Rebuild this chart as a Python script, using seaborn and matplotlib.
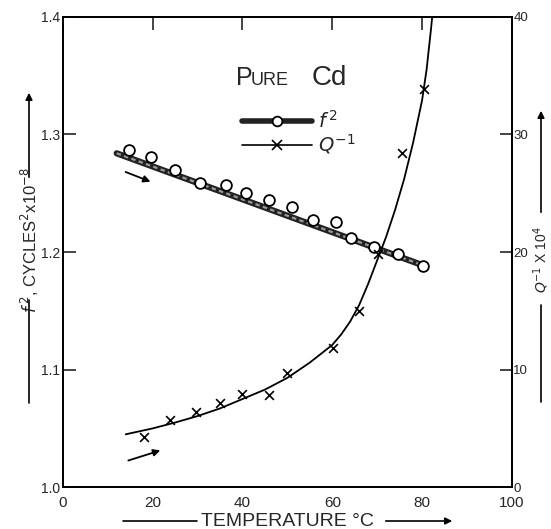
import numpy as np
import pandas as pd
import matplotlib.pyplot as plt
import seaborn as sns
from matplotlib.lines import Line2D

# f^2 measurements (cycles^2 x 10^-8)
temp_f = [14.7, 19.6, 24.9, 30.5, 36.3, 40.8, 45.9, 51.0, 55.7, 60.8, 64.1, 69.3, 74.6, 80.2]
f_sq = [1.287, 1.281, 1.270, 1.259, 1.257, 1.250, 1.244, 1.238, 1.227, 1.226, 1.212, 1.204, 1.198, 1.188]
fit_t = [12, 80]
fit_f = [1.284, 1.189]

# Q^-1 measurements (x 10^4)
temp_q = [18.0, 23.8, 29.6, 35.0, 39.9, 45.9, 49.9, 60.1, 65.9, 70.2, 75.5, 80.4]
q_inv = [4.3, 5.7, 6.4, 7.2, 7.9, 7.85, 9.7, 11.8, 15.0, 19.8, 28.4, 33.9]
# drawn curve
curve_t = [14, 20, 25, 30, 35, 40, 45, 50, 55, 60, 62, 64, 66, 68, 70, 72, 74, 76, 78, 80, 81, 82, 82.5]
curve_q = [4.5, 5.0, 5.5, 6.05, 6.7, 7.5, 8.3, 9.3, 10.6, 12.1, 13.0, 14.1, 15.5, 17.3, 19.3,
           21.3, 23.6, 26.2, 29.3, 32.9, 35.5, 39.0, 41.0]

x_ticks = [0, 20, 40, 60, 80, 100]
left_ticks = [1.0, 1.1, 1.2, 1.3, 1.4]
right_ticks = [0, 10, 20, 30, 40]

sns.set_theme(style="white")
plt.rcParams['font.family'] = ['Liberation Sans', 'DejaVu Sans']
plt.rcParams['mathtext.fontset'] = 'dejavusans'

fig = plt.figure(figsize=(5.51, 5.29), dpi=100)
ax = fig.add_axes([0.114, 0.079, 0.815, 0.889])
ax2 = ax.twinx()

# f^2 fitted line (thick, hatched look) and points
sns.lineplot(x=fit_t, y=fit_f, ax=ax, color='#222222', linewidth=4.5, sort=False, zorder=3)
sns.lineplot(x=fit_t, y=fit_f, ax=ax, color='#999999', linewidth=1.6, sort=False,
             zorder=4).lines[-1].set_linestyle((0, (2, 1.5)))
sns.scatterplot(x=temp_f, y=f_sq, ax=ax, marker='o', s=60, facecolor='white',
                edgecolor='black', linewidth=1.3, zorder=5)

# Q^-1 curve and points
sns.lineplot(x=curve_t, y=curve_q, ax=ax2, color='black', linewidth=1.3, sort=False, zorder=3)
sns.scatterplot(x=temp_q, y=q_inv, ax=ax2, marker='x', s=40, color='black', linewidth=1.2, zorder=5)

ax.set_xlim(0, 100)
ax.set_ylim(1.0, 1.4)
ax2.set_ylim(0, 40)
ax.set_xticks(x_ticks)
ax.set_yticks(left_ticks)
ax2.set_yticks(right_ticks)
ax.set_yticklabels(['1.0', '1.1', '1.2', '1.3', '1.4'])
ax.set_xlabel('')
ax.set_ylabel('')
ax2.set_ylabel('')

ax.tick_params(axis='x', direction='in', length=9, width=1.2, top=True, pad=6, labelsize=11)
ax.tick_params(axis='y', direction='in', length=9, width=1.2, pad=2, labelsize=10)
ax2.tick_params(axis='y', direction='in', length=9, width=1.2, pad=1, labelsize=9.5)
for a in (ax, ax2):
    for s in a.spines.values():
        s.set_color('black')
        s.set_linewidth(1.3)

# arrows showing heating direction
ax.annotate('', xy=(20.1, 1.259), xytext=(13.4, 1.269),
            arrowprops=dict(arrowstyle='-|>', color='black', lw=1.3, mutation_scale=10))
ax2.annotate('', xy=(22.3, 3.2), xytext=(14, 2.2),
             arrowprops=dict(arrowstyle='-|>', color='black', lw=1.3, mutation_scale=10))

# label block
ax.text(0.385, 0.855, 'P', transform=ax.transAxes, fontsize=18, va='baseline')
ax.text(0.418, 0.855, 'URE', transform=ax.transAxes, fontsize=13, va='baseline')
ax.text(0.555, 0.855, 'Cd', transform=ax.transAxes, fontsize=20, va='baseline')

handles = [
    Line2D([], [], color='#222222', lw=4, marker='o', mfc='white', mec='black', mew=1.3, ms=7),
    Line2D([], [], color='black', lw=1.2, marker='x', mec='black', mew=1.2, ms=7),
]
ax2.legend(handles, ['$f^{\\,2}$', '$Q^{-1}$'], loc='upper left', bbox_to_anchor=(0.36, 0.84),
           frameon=False, handlelength=3.6, fontsize=14, labelspacing=0.05, handletextpad=0.3)

# axis labels with arrows
fig.text(30 / 551, 1 - 240 / 529, '$f^{\\,2}$, CYCLES$^2$x10$^{-8}$', rotation=90,
         ha='center', va='center', fontsize=12)
fig.add_artist(plt.Line2D([29 / 551, 29 / 551], [1 - 403 / 529, 1 - 300 / 529], color='black', lw=1.2))
ax.annotate('', xy=(29 / 551, 1 - 90 / 529), xytext=(29 / 551, 1 - 180 / 529), xycoords='figure fraction',
            arrowprops=dict(arrowstyle='-|>', color='black', lw=1.2, mutation_scale=10))

fig.text(541 / 551, 1 - 260 / 529, '$Q^{-1}$ X 10$^4$', rotation=90, ha='center', va='center', fontsize=10)
fig.add_artist(plt.Line2D([541 / 551, 541 / 551], [1 - 402 / 529, 1 - 305 / 529], color='black', lw=1.2))
ax.annotate('', xy=(541 / 551, 1 - 108 / 529), xytext=(541 / 551, 1 - 215 / 529), xycoords='figure fraction',
            arrowprops=dict(arrowstyle='-|>', color='black', lw=1.2, mutation_scale=10))

fig.text(287 / 551, 1 - 521 / 529, 'TEMPERATURE °C', ha='center', va='center', fontsize=14)
fig.add_artist(plt.Line2D([123 / 551, 197 / 551], [1 - 521 / 529, 1 - 521 / 529], color='black', lw=1.2))
ax.annotate('', xy=(455 / 551, 1 - 521 / 529), xytext=(383 / 551, 1 - 521 / 529), xycoords='figure fraction',
            arrowprops=dict(arrowstyle='-|>', color='black', lw=1.2, mutation_scale=10))

fig.savefig('out.png', dpi=100)
